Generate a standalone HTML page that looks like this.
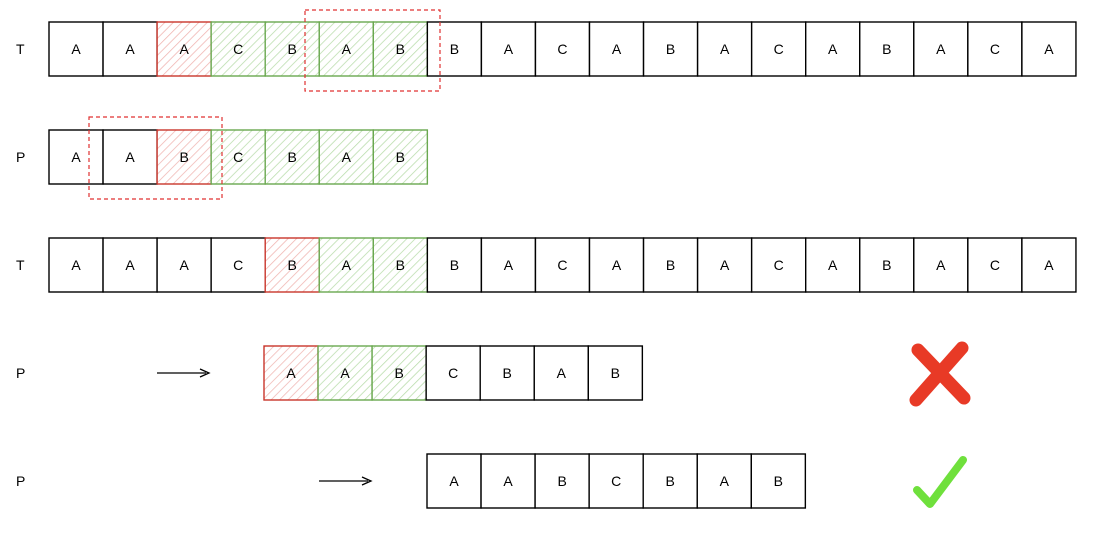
<!DOCTYPE html>
<html><head><style>body{margin:0;background:#fff}svg{display:block}text{font-family:"Liberation Sans",sans-serif;font-size:14px}</style></head><body>
<svg width="1098" height="534" xmlns="http://www.w3.org/2000/svg">
<defs>
<pattern id="hr" width="6" height="6" patternUnits="userSpaceOnUse" patternTransform="rotate(45)"><rect width="6" height="6" fill="#fff"/><line x1="0" y1="0" x2="0" y2="6" stroke="#f0b4b0" stroke-width="1.5"/></pattern>
<pattern id="hg" width="6" height="6" patternUnits="userSpaceOnUse" patternTransform="rotate(45)"><rect width="6" height="6" fill="#fff"/><line x1="0" y1="0" x2="0" y2="6" stroke="#b8dcaa" stroke-width="1.5"/></pattern>
</defs>
<g id="c"></g>
<text x="16" y="54">T</text><text x="16" y="162">P</text><text x="16" y="270">T</text><text x="16" y="378">P</text><text x="16" y="486">P</text>
<line x1="157" y1="373" x2="206" y2="373" stroke="#000" stroke-width="1.3"/><path d="M200 369 L209 373 L200 377" fill="none" stroke="#000" stroke-width="1.3"/>
<line x1="319" y1="481" x2="368" y2="481" stroke="#000" stroke-width="1.3"/><path d="M362 477 L371 481 L362 485" fill="none" stroke="#000" stroke-width="1.3"/>
<path d="M918 350 L964 398 M962 348 L916 400" stroke="#e83a26" stroke-width="13" stroke-linecap="round"/>
<path d="M917 490 L930 504 L963 460" fill="none" stroke="#6fe03c" stroke-width="8" stroke-linecap="round" stroke-linejoin="round"/>
<rect x="305" y="10" width="135" height="81" fill="none" stroke="#e03131" stroke-width="1.2" stroke-dasharray="4 3"/>
<rect x="89" y="117" width="133" height="82" fill="none" stroke="#e03131" stroke-width="1.2" stroke-dasharray="4 3"/>
</svg>
<script>
var s=document.getElementById('c'),W=54.05;
function row(x0,y,str,red,greens){for(var i=0;i<str.length;i++){var x=x0+i*W,f='#fff',st='#000';if(i===red){f='url(#hr)';st='#c9352b'}else if(greens.indexOf(i)>=0){f='url(#hg)';st='#6aa84f'}
var r=document.createElementNS('http://www.w3.org/2000/svg','rect');r.setAttribute('x',x);r.setAttribute('y',y);r.setAttribute('width',W);r.setAttribute('height',54);r.setAttribute('fill',f);r.setAttribute('stroke',st);r.setAttribute('stroke-width','1.4');s.appendChild(r);
var t=document.createElementNS('http://www.w3.org/2000/svg','text');t.setAttribute('x',x+W/2);t.setAttribute('y',y+32);t.setAttribute('text-anchor','middle');t.textContent=str[i];s.appendChild(t);}}
var T="AAACBABBACABACABACA",P="AABCBAB";
row(49,22,T,2,[3,4,5,6]);row(49,130,P,2,[3,4,5,6]);row(49,238,T,4,[5,6]);row(264,346,P,0,[1,2]);row(427,454,P,-1,[]);
</script>
</body></html>
